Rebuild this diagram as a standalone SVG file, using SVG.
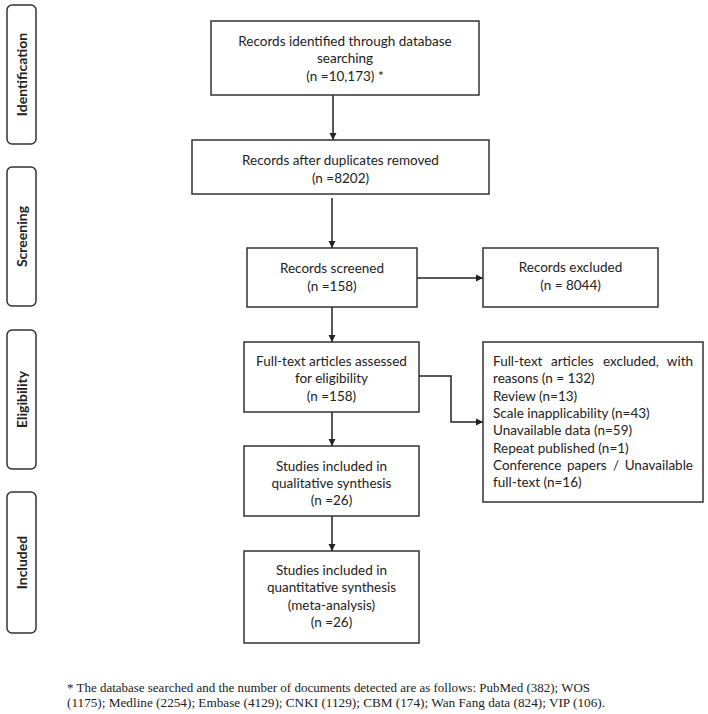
<svg xmlns="http://www.w3.org/2000/svg" width="708" height="714" viewBox="0 0 708 714">
<defs>
<marker id="arr" markerWidth="8" markerHeight="8" refX="7" refY="4" orient="auto" markerUnits="userSpaceOnUse">
<path d="M0,0.5 L7,4 L0,7.5 Z" fill="#222"/>
</marker>
<style>
.box{fill:#fff;stroke:#333;stroke-width:1.5}
.side{fill:#fff;stroke:#333;stroke-width:1.5}
.t{font-family:Lato,"Liberation Sans",sans-serif;font-size:13.5px;fill:#222}
.c{text-anchor:middle}
.e{text-anchor:end}
.s{font-family:Lato,"Liberation Sans",sans-serif;font-size:14px;font-weight:bold;fill:#222;text-anchor:middle}
.fn{font-family:"Liberation Serif",serif;font-size:13px;fill:#222}
.ln{fill:none;stroke:#222;stroke-width:1.5}
</style>
</defs>
<rect width="708" height="714" fill="#fff"/>

<g id="stage-identification">
<rect class="side" x="7" y="5" width="29" height="139" rx="5"/>
<text class="s" transform="translate(26.5,74.5) rotate(-90)">Identification</text>
</g>
<g id="stage-screening">
<rect class="side" x="7" y="167" width="29" height="139" rx="5"/>
<text class="s" transform="translate(26.5,236.5) rotate(-90)">Screening</text>
</g>
<g id="stage-eligibility">
<rect class="side" x="7" y="330" width="29" height="139" rx="5"/>
<text class="s" transform="translate(26.5,399.5) rotate(-90)">Eligibility</text>
</g>
<g id="stage-included">
<rect class="side" x="7" y="492" width="29" height="141" rx="5"/>
<text class="s" transform="translate(26.5,562.5) rotate(-90)">Included</text>
</g>

<g id="connectors">
<line class="ln" x1="333" y1="95" x2="333" y2="140" marker-end="url(#arr)"/>
<line class="ln" x1="332" y1="198" x2="332" y2="248" marker-end="url(#arr)"/>
<line class="ln" x1="417" y1="278" x2="483" y2="278" marker-end="url(#arr)"/>
<line class="ln" x1="332" y1="307" x2="332" y2="342" marker-end="url(#arr)"/>
<polyline class="ln" points="419,376 451,376 451,422 483,422" marker-end="url(#arr)"/>
<line class="ln" x1="332" y1="412" x2="332" y2="446" marker-end="url(#arr)"/>
<line class="ln" x1="332" y1="516" x2="332" y2="551" marker-end="url(#arr)"/>
</g>

<g id="identified">
<rect class="box" x="211" y="21" width="268" height="74"/>
<text class="t c" x="345" y="46">Records identified through database</text>
<text class="t c" x="345" y="63">searching</text>
<text class="t c" x="345" y="81">(n =10,173) *</text>
</g>
<g id="deduplicated">
<rect class="box" x="192" y="140" width="297" height="54"/>
<text class="t c" x="340.5" y="165">Records after duplicates removed</text>
<text class="t c" x="340.5" y="183">(n =8202)</text>
</g>
<g id="screened">
<rect class="box" x="247" y="248" width="170" height="59"/>
<text class="t c" x="332" y="273">Records screened</text>
<text class="t c" x="332" y="291">(n =158)</text>
</g>
<g id="excluded">
<rect class="box" x="483" y="248" width="175" height="59"/>
<text class="t c" x="570.5" y="272">Records excluded</text>
<text class="t c" x="570.5" y="290">(n = 8044)</text>
</g>
<g id="fulltext">
<rect class="box" x="244" y="342" width="175" height="70"/>
<text class="t c" x="331.5" y="366">Full-text articles assessed</text>
<text class="t c" x="331.5" y="383">for eligibility</text>
<text class="t c" x="331.5" y="401">(n =158)</text>
</g>
<g id="fulltext-excluded">
<rect class="box" x="483" y="342" width="220" height="160"/>
<text class="t" y="366"><tspan x="493">Full-text</tspan><tspan x="551">articles</tspan><tspan x="603">excluded,</tspan></text>
<text class="t e" x="693" y="366">with</text>
<text class="t" x="493" y="383">reasons (n = 132)</text>
<text class="t" x="493" y="401">Review (n=13)</text>
<text class="t" x="493" y="418">Scale inapplicability (n=43)</text>
<text class="t" x="493" y="435">Unavailable data (n=59)</text>
<text class="t" x="493" y="453">Repeat published (n=1)</text>
<text class="t" y="470"><tspan x="493">Conference</tspan><tspan x="567">papers</tspan><tspan x="613">/</tspan></text>
<text class="t e" x="693" y="470">Unavailable</text>
<text class="t" x="493" y="487">full-text (n=16)</text>
</g>
<g id="qualitative">
<rect class="box" x="244" y="446" width="175" height="70"/>
<text class="t c" x="331.5" y="471">Studies included in</text>
<text class="t c" x="331.5" y="488">qualitative synthesis</text>
<text class="t c" x="331.5" y="505">(n =26)</text>
</g>
<g id="quantitative">
<rect class="box" x="244" y="551" width="175" height="92"/>
<text class="t c" x="331.5" y="575">Studies included in</text>
<text class="t c" x="331.5" y="592">quantitative synthesis</text>
<text class="t c" x="331.5" y="610">(meta-analysis)</text>
<text class="t c" x="331.5" y="627">(n =26)</text>
</g>

<g id="footnote">
<text class="fn" x="67" y="692" textLength="523" lengthAdjust="spacingAndGlyphs">* The database searched and the number of documents detected are as follows: PubMed (382); WOS</text>
<text class="fn" x="67" y="707" textLength="538" lengthAdjust="spacingAndGlyphs">(1175); Medline (2254); Embase (4129); CNKI (1129); CBM (174); Wan Fang data (824); VIP (106).</text>
</g>
</svg>
